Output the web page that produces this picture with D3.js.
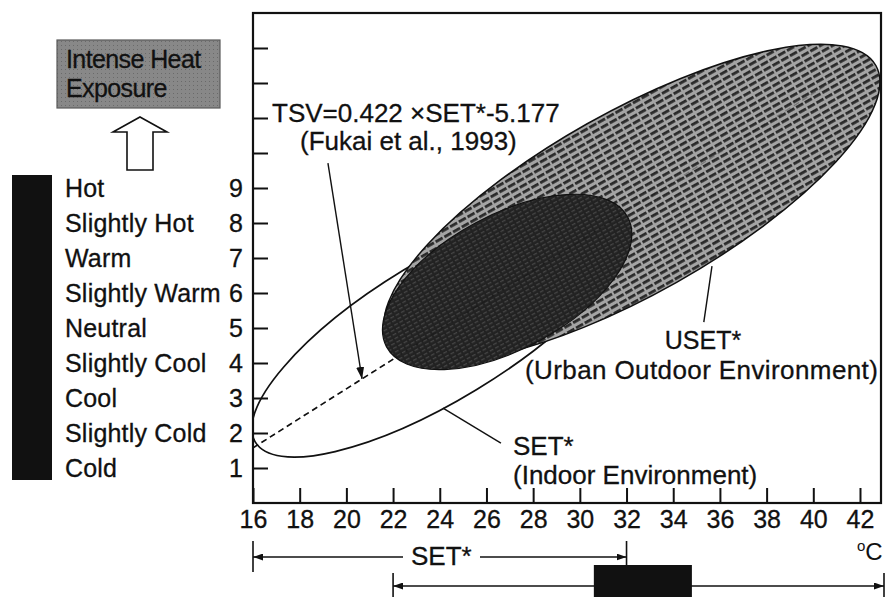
<!DOCTYPE html>
<html>
<head>
<meta charset="utf-8">
<script src="https://cdn.jsdelivr.net/npm/d3@7"></script>
<style>
  html, body { margin: 0; padding: 0; background: #fff; }
  svg { display: block; }
  text { font-family: "Liberation Sans", Arial, Helvetica, sans-serif; fill: #111; }
</style>
</head>
<body>
<div id="chart"></div>
<script>
// ---------------- data ----------------
const xTickValues = [16, 18, 20, 22, 24, 26, 28, 30, 32, 34, 36, 38, 40, 42];
const yTickValues = [1, 2, 3, 4, 5, 6, 7, 8, 9, 10, 11, 12, 13];
const yLabelMax = 9;
const sensationValues = [1, 2, 3, 4, 5, 6, 7, 8, 9];
const sensationLabels = ["Cold", "Slightly Cold", "Cool", "Slightly Cool", "Neutral",
                         "Slightly Warm", "Warm", "Slightly Hot", "Hot"];

// ellipses: major-axis end points in data units (SET*, TSV) and minor/major ratio
const ellipseNames = ["SET*", "USET*", "core"];
const ellipseStart = [[16.10, 1.74], [21.78, 4.64], [21.72, 4.46]];
const ellipseEnd   = [[31.92, 8.15], [42.68, 12.50], [32.05, 8.17]];
const ellipseRatio = [0.324, 0.325, 0.489];

// regression TSV = 0.422 x SET* - 5.177
const tsvSlope = 0.422;
const tsvIntercept = -5.177;
const tsvRange = [16, 42];

// pointer lines in data units
const tsvPointer = [19.21, 9.71, 20.67];
const setPointer = [24.14, 2.71, 26.62, 1.71];
const usetPointer = [35.66, 6.77, 35.31, 5.17];

// ranges shown under the axis
const setRange = [16, 32];
const usetRange = [22, 42.9];
const intenseRange = [30.6, 34.8];

// ---------------- layout ----------------
const W = 889, H = 597;
const x = d3.scaleLinear().domain([16, 42.9]).range([253, 881]);
const y = d3.scaleLinear().domain([0, 14]).range([503, 13]);
const FONT = "'Liberation Sans', Arial, Helvetica, sans-serif";

const svg = d3.select("#chart").append("svg").attr("width", W).attr("height", H);
const defs = svg.append("defs");

// patterns
const pLight = defs.append("pattern").attr("id", "hatchLight")
  .attr("patternUnits", "userSpaceOnUse").attr("width", 10).attr("height", 6);
pLight.append("rect").attr("width", 10).attr("height", 6).attr("fill", "#a4a4a4");
pLight.append("rect").attr("x", 0).attr("y", 2).attr("width", 8).attr("height", 2.8).attr("fill", "#2a2a2a");

const pDark = defs.append("pattern").attr("id", "hatchDark")
  .attr("patternUnits", "userSpaceOnUse").attr("width", 6).attr("height", 4);
pDark.append("rect").attr("width", 6).attr("height", 4).attr("fill", "#222");
pDark.append("rect").attr("x", 0).attr("y", 0).attr("width", 4).attr("height", 1.3).attr("fill", "#464646");

const pBox = defs.append("pattern").attr("id", "boxGray")
  .attr("patternUnits", "userSpaceOnUse").attr("width", 4).attr("height", 4);
pBox.append("rect").attr("width", 4).attr("height", 4).attr("fill", "#888");
pBox.append("rect").attr("x", 1).attr("y", 1).attr("width", 1).attr("height", 1).attr("fill", "#6a6a6a");

defs.append("clipPath").attr("id", "plotClip").append("rect")
  .attr("x", x.range()[0]).attr("y", y.range()[1])
  .attr("width", x.range()[1] - x.range()[0]).attr("height", y.range()[0] - y.range()[1]);

function marker(id, len, wid) {
  defs.append("marker").attr("id", id)
    .attr("viewBox", `0 0 ${len} ${wid}`).attr("refX", len).attr("refY", wid / 2)
    .attr("markerWidth", len).attr("markerHeight", wid)
    .attr("markerUnits", "userSpaceOnUse").attr("orient", "auto-start-reverse")
    .append("path").attr("d", `M0,0L${len},${wid / 2}L0,${wid}Z`).attr("fill", "#111");
}
marker("arrowBig", 12, 8);
marker("arrowSmall", 10, 7);

// ---------------- plot content ----------------
const plot = svg.append("g").attr("clip-path", "url(#plotClip)");

function drawEllipse(i, fill, sw) {
  const p1 = [x(ellipseStart[i][0]), y(ellipseStart[i][1])];
  const p2 = [x(ellipseEnd[i][0]), y(ellipseEnd[i][1])];
  const cx = (p1[0] + p2[0]) / 2, cy = (p1[1] + p2[1]) / 2;
  const a = Math.hypot(p2[0] - p1[0], p2[1] - p1[1]) / 2;
  const ang = Math.atan2(p2[1] - p1[1], p2[0] - p1[0]) * 180 / Math.PI;
  plot.append("ellipse")
    .attr("transform", `translate(${cx},${cy}) rotate(${ang})`)
    .attr("rx", a).attr("ry", a * ellipseRatio[i])
    .attr("fill", fill).attr("stroke", "#111").attr("stroke-width", sw);
}

const tsvLine = d3.line().x(d => x(d)).y(d => y(tsvSlope * d + tsvIntercept));

drawEllipse(0, "none", 1.7);
plot.append("path").attr("d", tsvLine(tsvRange))
  .attr("fill", "none").attr("stroke", "#111").attr("stroke-width", 1.6)
  .attr("stroke-dasharray", "6,4");
drawEllipse(1, "url(#hatchLight)", 1.5);
drawEllipse(2, "url(#hatchDark)", 1.2);
plot.append("path").attr("d", tsvLine(tsvRange))
  .attr("fill", "none").attr("stroke", "#111").attr("stroke-width", 1.3)
  .attr("stroke-dasharray", "6,4").attr("opacity", 0.3);

// pointers
svg.append("line")
  .attr("x1", x(tsvPointer[0])).attr("y1", y(tsvPointer[1]))
  .attr("x2", x(tsvPointer[2])).attr("y2", y(tsvSlope * tsvPointer[2] + tsvIntercept))
  .attr("stroke", "#111").attr("stroke-width", 1.4).attr("marker-end", "url(#arrowBig)");
svg.append("line")
  .attr("x1", x(setPointer[0])).attr("y1", y(setPointer[1]))
  .attr("x2", x(setPointer[2])).attr("y2", y(setPointer[3]))
  .attr("stroke", "#111").attr("stroke-width", 1.4);
svg.append("line")
  .attr("x1", x(usetPointer[0])).attr("y1", y(usetPointer[1]))
  .attr("x2", x(usetPointer[2])).attr("y2", y(usetPointer[3]))
  .attr("stroke", "#111").attr("stroke-width", 1.4);

// ---------------- axes ----------------
const xAxis = d3.axisBottom(x).tickValues(xTickValues).tickSize(-15).tickSizeOuter(0).tickPadding(7);
const gx = svg.append("g").attr("transform", `translate(0,${y(0)})`).call(xAxis);
gx.select(".domain").remove();
gx.selectAll(".tick line").attr("stroke", "#111").attr("stroke-width", 2);
gx.selectAll(".tick text").attr("font-size", 25).attr("font-family", FONT).attr("fill", "#111")
  .attr("stroke", "#111").attr("stroke-width", 0.3);

const yAxis = d3.axisLeft(y).tickValues(yTickValues).tickSize(-15).tickSizeOuter(0).tickPadding(10)
  .tickFormat(d => d <= yLabelMax ? d : "");
const gy = svg.append("g").attr("transform", `translate(${x(16)},0)`).call(yAxis);
gy.select(".domain").remove();
gy.selectAll(".tick line").attr("stroke", "#111").attr("stroke-width", 2);
gy.selectAll(".tick text").attr("font-size", 25).attr("font-family", FONT).attr("fill", "#111")
  .attr("stroke", "#111").attr("stroke-width", 0.3);

// frame
svg.append("rect")
  .attr("x", x.range()[0]).attr("y", y.range()[1])
  .attr("width", x.range()[1] - x.range()[0]).attr("height", y.range()[0] - y.range()[1])
  .attr("fill", "none").attr("stroke", "#111").attr("stroke-width", 2.2);

// ---------------- annotations ----------------
function txt(str, tx, ty, size, anchor) {
  return svg.append("text").attr("x", tx).attr("y", ty)
    .attr("font-size", size).attr("text-anchor", anchor || "start")
    .attr("stroke", "#111").attr("stroke-width", 0.3).text(str);
}
txt("TSV=0.422 \u00D7SET*-5.177", 272, 122, 26);
txt("(Fukai et al., 1993)", 300, 150, 26);
txt("USET*", 703, 349, 25, "middle");
txt("(Urban Outdoor Environment)", 525, 379, 26).attr("letter-spacing", 0.4);
txt("SET*", 513, 455, 26);
txt("(Indoor Environment)", 513, 484, 26);

// degree C
const deg = svg.append("text").attr("x", 857).attr("y", 560).attr("font-size", 24);
deg.append("tspan").attr("font-size", 15).attr("dy", -9).text("o");
deg.append("tspan").attr("dy", 9).text("C");

// left legend: sensation scale
svg.append("rect").attr("x", 12).attr("y", 175).attr("width", 40).attr("height", 305).attr("fill", "#111");
sensationValues.forEach((v, i) => {
  txt(sensationLabels[i], 65, y(v) + 9, 25).attr("letter-spacing", 0.2);
});

// intense heat box + hollow arrow
svg.append("rect").attr("x", 57).attr("y", 40).attr("width", 163).attr("height", 68)
  .attr("fill", "url(#boxGray)").attr("stroke", "#5a5a5a").attr("stroke-width", 1.2);
txt("Intense Heat", 66, 68, 25).attr("fill", "#1a1a1a").attr("letter-spacing", -0.6);
txt("Exposure", 66, 97, 25).attr("fill", "#1a1a1a").attr("letter-spacing", -0.6);
svg.append("path")
  .attr("d", "M140,117 L167,132 L153,132 L153,170 L127,170 L127,132 L113,132 Z")
  .attr("fill", "#fff").attr("stroke", "#111").attr("stroke-width", 1.6);

// ---------------- ranges below the axis ----------------
const r1y = 557, r2y = 586;
svg.append("line").attr("x1", x(setRange[0])).attr("x2", x(setRange[0])).attr("y1", 541).attr("y2", 572)
  .attr("stroke", "#111").attr("stroke-width", 1.6);
svg.append("line").attr("x1", x(setRange[1])).attr("x2", x(setRange[1])).attr("y1", 541).attr("y2", 567)
  .attr("stroke", "#111").attr("stroke-width", 1.6);
svg.append("line").attr("x1", 403).attr("x2", x(setRange[0])).attr("y1", r1y).attr("y2", r1y)
  .attr("stroke", "#111").attr("stroke-width", 1.5).attr("marker-end", "url(#arrowSmall)");
svg.append("line").attr("x1", 480).attr("x2", x(setRange[1])).attr("y1", r1y).attr("y2", r1y)
  .attr("stroke", "#111").attr("stroke-width", 1.5).attr("marker-end", "url(#arrowSmall)");
txt("SET*", 411, 565, 26);

svg.append("line").attr("x1", x(usetRange[0])).attr("x2", x(usetRange[0])).attr("y1", 573).attr("y2", 597)
  .attr("stroke", "#111").attr("stroke-width", 1.6);
svg.append("line").attr("x1", x(usetRange[1]) + 3).attr("x2", x(usetRange[1]) + 3).attr("y1", 573).attr("y2", 597)
  .attr("stroke", "#111").attr("stroke-width", 1.6);
svg.append("line").attr("x1", x(usetRange[0])).attr("x2", x(usetRange[1]) + 3).attr("y1", r2y).attr("y2", r2y)
  .attr("stroke", "#111").attr("stroke-width", 1.5)
  .attr("marker-start", "url(#arrowSmall)").attr("marker-end", "url(#arrowSmall)");
svg.append("rect").attr("x", x(intenseRange[0])).attr("y", 565)
  .attr("width", x(intenseRange[1]) - x(intenseRange[0])).attr("height", 40).attr("fill", "#111");
</script>
</body>
</html>
